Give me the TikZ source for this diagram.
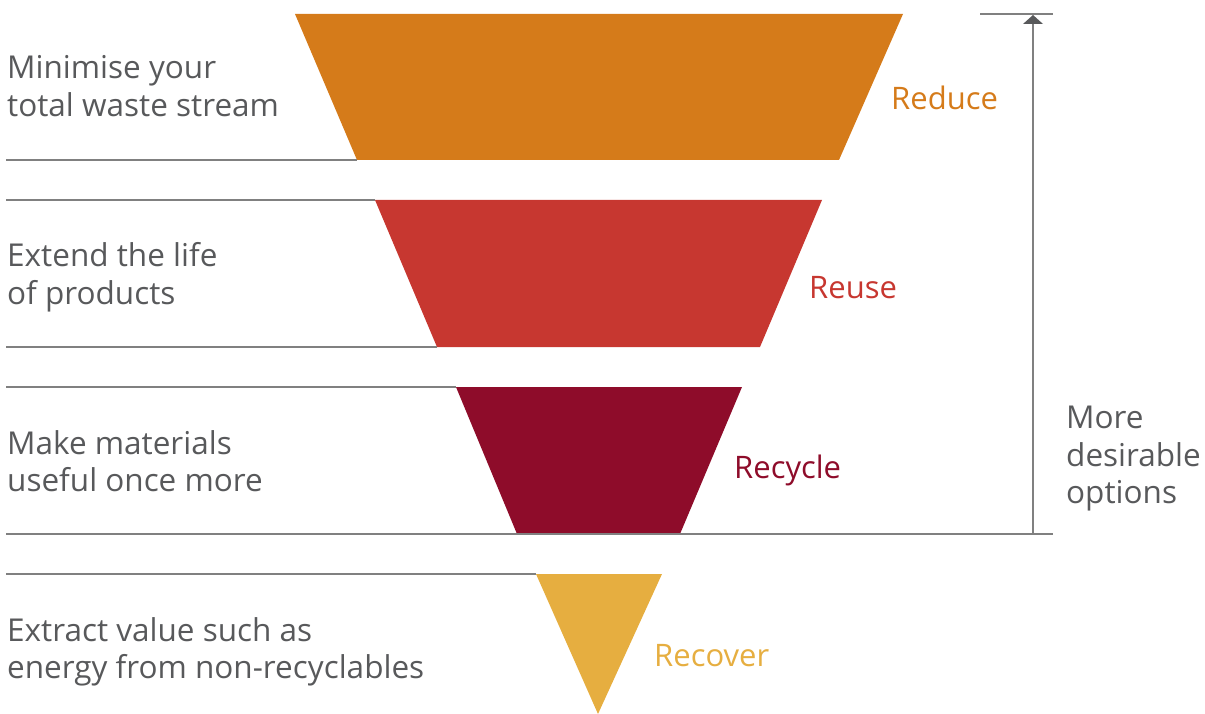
\documentclass[tikz,border=0pt]{standalone}
\usepackage{fontspec}
\setmainfont{Open Sans}
\definecolor{txt}{HTML}{58595B}
\definecolor{cReduce}{HTML}{D57B1A}
\definecolor{cReuse}{HTML}{C73730}
\definecolor{cRecycle}{HTML}{8E0C2A}
\definecolor{cRecover}{HTML}{E6AE40}
\definecolor{rule}{HTML}{808080}
\begin{document}
\begin{tikzpicture}[x=1pt,y=-1pt,
  sep/.style={draw=rule,line width=1.2pt},
  lefttext/.style={anchor=west,text=txt,align=left,font=\fontsize{31.5}{37.5}\selectfont,inner sep=0pt},
  tag/.style={anchor=west,font=\fontsize{31}{37}\selectfont,inner sep=0pt}]
\useasboundingbox (0,0) rectangle (1205,714);
% shapes
\fill[cReduce] (295,14) -- (903,14) -- (839,160) -- (357,160) -- cycle;
\fill[cReuse] (375,200) -- (822,200) -- (760,347) -- (437,347) -- cycle;
\fill[cRecycle] (456,387) -- (742,387) -- (680,534) -- (517,534) -- cycle;
\fill[cRecover] (536,574) -- (662,574) -- (598,714) -- cycle;
% separator lines
\coordinate (l1a) at (6,160); \coordinate (l1b) at (357,160);
\coordinate (l2a) at (6,200); \coordinate (l2b) at (375,200);
\coordinate (l3a) at (6,347); \coordinate (l3b) at (437,347);
\coordinate (l4a) at (6,387); \coordinate (l4b) at (456,387);
\coordinate (l5a) at (6,534); \coordinate (l5b) at (1053,534);
\coordinate (l6a) at (6,574); \coordinate (l6b) at (536,574);
\coordinate (t1) at (980,14); \coordinate (t2) at (1053,14);
\draw[sep] (l1a) -- (l1b);
\draw[sep] (l2a) -- (l2b);
\draw[sep] (l3a) -- (l3b);
\draw[sep] (l4a) -- (l4b);
\draw[sep] (l5a) -- (l5b);
\draw[sep] (l6a) -- (l6b);
\draw[sep] (t1) -- (t2);
% arrow
\coordinate (abot) at (1033,534);
\coordinate (atop) at (1033,15);
\draw[draw=rule,line width=1.2pt] (abot) -- (1033,24);
\fill[txt] (atop) -- (1043,24) -- (1023,24) -- cycle;
% left texts
\node[lefttext] (t1n) at (7,86) {Minimise your\\total waste stream};
\node[lefttext] (t2n) at (7,277) {Extend the life\\of products};
\node[lefttext] (t3n) at (7,461) {Make materials\\useful once more};
\node[lefttext] (t4n) at (7,652) {Extract value such as\\energy from non-recyclables};
% tags
\node[tag,text=cReduce] (r1) at (891,98) {Reduce};
\node[tag,text=cReuse] (r2) at (809,288) {Reuse};
\node[tag,text=cRecycle] (r3) at (734,470) {Recycle};
\node[tag,text=cRecover] (r4) at (654,656) {Recover};
\node[lefttext] (md) at (1066,459) {More\\desirable\\options};
\end{tikzpicture}
\end{document}
